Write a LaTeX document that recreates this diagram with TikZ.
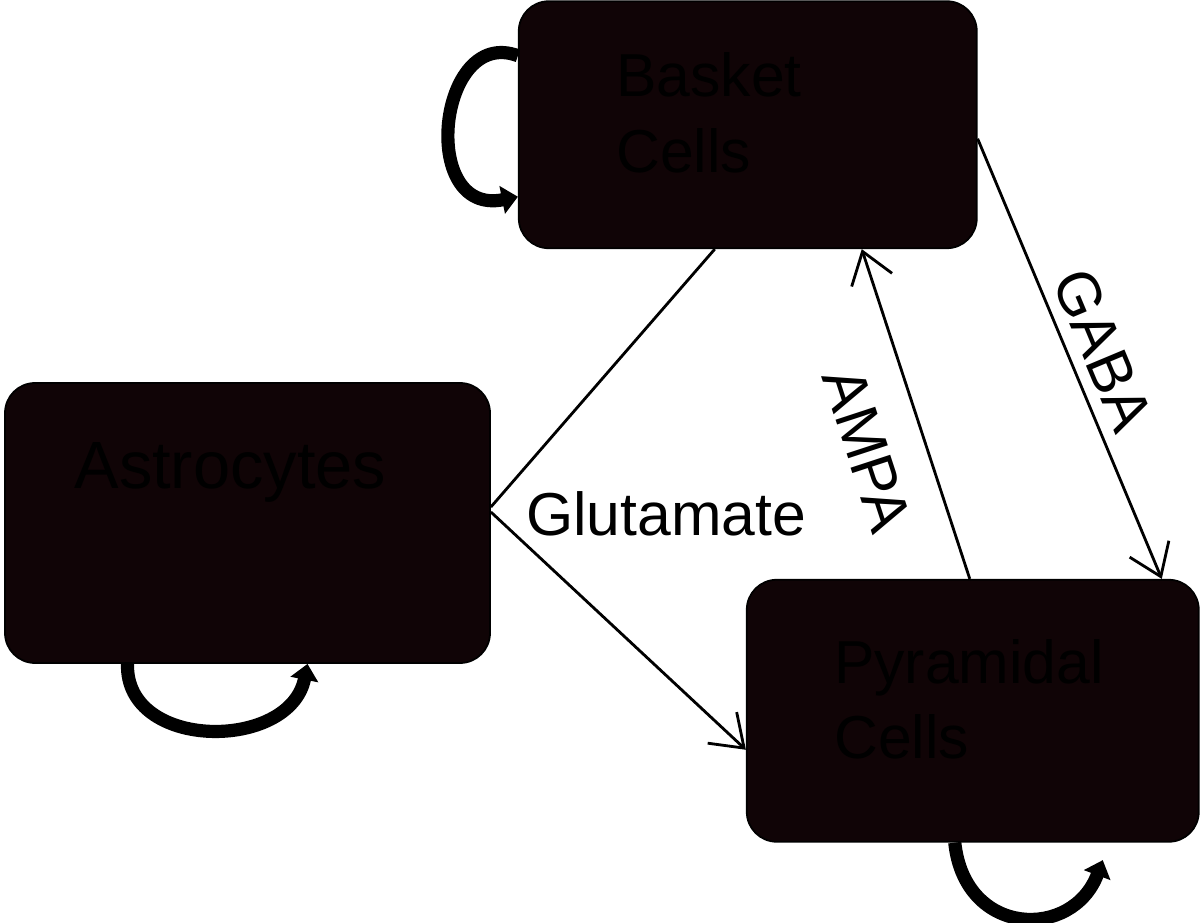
\documentclass[tikz,border=0pt]{standalone}
\usepackage{fontspec}
\setmainfont{Liberation Sans}
\usepackage{xcolor}
\usepackage{tikz}
\usetikzlibrary{positioning,arrows.meta}

\definecolor{boxfill}{RGB}{16,4,6}
\newcommand{\cellfont}{\fontsize{34.5}{43}\selectfont}
\newcommand{\astrofont}{\fontsize{38}{46}\selectfont}

\begin{document}
\begin{tikzpicture}[
    cellbox/.style={draw=black, line width=1pt, fill=boxfill, rounded corners=0.6cm, inner sep=0pt},
    celltext/.style={font=\cellfont, align=left, inner sep=0pt, anchor=north west, text=black},
    lbl/.style={font=\cellfont, inner sep=0pt},
    syn/.style={line width=1.6pt, -{Straight Barb[length=6mm,width=8.5mm]}},
    glu/.style={line width=1.6pt},
    selfloop/.style={line width=7.5pt, -{Triangle[length=3.2mm,width=5.5mm]}}
]
\useasboundingbox (0,0) rectangle (24,18.44);

% Nodes
\node[
    cellbox,
    minimum width=9.7cm,
    minimum height=5.6cm
] (astro) at (4.95,7.98) {};

\node[
    cellbox,
    minimum width=9.16cm,
    minimum height=4.94cm,
    above right=2.66cm and 0.54cm of astro
] (basket) {};

\node[
    cellbox,
    minimum width=9.04cm,
    minimum height=5.24cm,
    below right=-1.7cm and 5.1cm of astro
] (pyr) {};

% Box texts
\node[celltext] (baskettxt) at ([xshift=1.96cm, yshift=-1.04cm]basket.north west) {Basket\\Cells};
\node[celltext, font=\astrofont] (astrotxt) at ([xshift=1.4cm, yshift=-1.2cm]astro.north west) {Astrocytes};
\node[celltext] (pyrtxt) at ([xshift=1.76cm, yshift=-1.2cm]pyr.north west) {Pyramidal\\Cells};

% Synapses
\draw[glu] ([yshift=0.32cm]astro.east) -- ([xshift=-0.66cm]basket.south);
\draw[syn] ([yshift=0.22cm]astro.east) -- ([yshift=-0.78cm]pyr.west);
\node[lbl, anchor=base west] (glutxt) at ([xshift=0.7cm, yshift=-0.24cm]astro.east) {Glutamate};

\draw[syn]
    ([xshift=-0.06cm]pyr.north)
    -- node[lbl, sloped, below=0.7cm, pos=0.445] {AMPA}
    ([xshift=2.28cm]basket.south);

\draw[syn]
    ([yshift=-0.28cm]basket.east)
    -- node[lbl, sloped, above=0.22cm, pos=0.51] {GABA}
    ([xshift=3.78cm]pyr.north);

% Self loops
\draw[selfloop] ([yshift=1.38cm]basket.west) .. controls +(-1.6,0.6) and +(-2.0,-0.4) .. ([yshift=-1.44cm]basket.west);
\draw[selfloop] ([xshift=-2.4cm]astro.south) .. controls +(-0.05,-1.75) and +(-0.35,-1.75) .. ([xshift=1.2cm]astro.south);
\draw[selfloop] ([xshift=-0.36cm]pyr.south) .. controls +(0.2,-1.9) and +(-0.6,-1.6) .. ([xshift=2.6cm, yshift=-0.35cm]pyr.south);

\end{tikzpicture}
\end{document}
